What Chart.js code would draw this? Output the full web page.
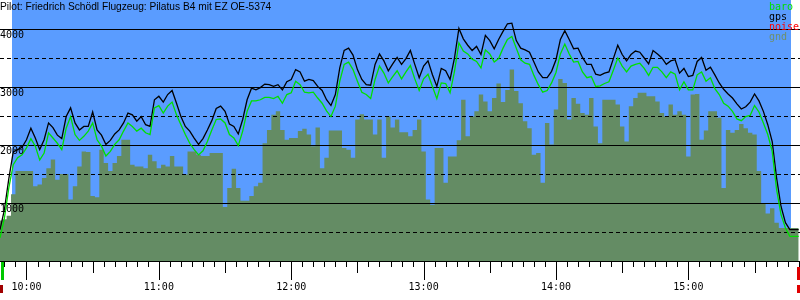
<!DOCTYPE html>
<html><head><meta charset="utf-8">
<script src="https://cdn.jsdelivr.net/npm/chart.js@4/dist/chart.umd.min.js"></script>
<style>
html,body{margin:0;padding:0;background:#fff;}
#wrap{position:relative;width:800px;height:300px;overflow:hidden;}
#title{position:absolute;left:0;top:1px;font:10.2px "Liberation Sans",Arial,sans-serif;line-height:11px;color:#000;white-space:nowrap;}
#legend{position:absolute;left:769px;top:2px;font:10px "DejaVu Sans Mono",monospace;line-height:10px;white-space:nowrap;}
</style></head><body>
<div id="wrap"><canvas id="c" width="800" height="300"></canvas>
<div id="title"></div><div id="legend"></div></div>
<script>
const titleText = 'Pilot: Friedrich Schödl Flugzeug: Pilatus B4 mit EZ OE-5374';
const seriesNames = ['baro', 'gps', 'noise', 'gnd'];
const seriesColors = ['#00e000', '#000000', '#ff0000', '#648c64'];
const hourTicks = [600, 660, 720, 780, 840, 900];
const hourLabels = ['10:00', '11:00', '12:00', '13:00', '14:00', '15:00'];
const xMin = 588, xMax = 950.6;
const skyStart = 593.4, skyEnd = 946.4;
const takeoff = 589, landing = 949.6;

const times = [588,590,592,594,596,598,600,602,604,606,608,610,612,614,616,618,620,622,624,626,628,630,632,634,636,638,640,642,644,646,648,650,652,654,656,658,660,662,664,666,668,670,672,674,676,678,680,682,684,686,688,690,692,694,696,698,700,702,704,706,708,710,712,714,716,718,720,722,724,726,728,730,732,734,736,738,740,742,744,746,748,750,752,754,756,758,760,762,764,766,768,770,772,774,776,778,780,782,784,786,788,790,792,794,796,798,800,802,804,806,808,810,812,814,816,818,820,822,824,826,828,830,832,834,836,838,840,842,844,846,848,850,852,854,856,858,860,862,864,866,868,870,872,874,876,878,880,882,884,886,888,890,892,894,896,898,900,902,904,906,908,910,912,914,916,918,920,922,924,926,928,930,932,934,936,938,940,942,944,946,948,950];

const gps = [540,885,1420,1880,1920,1960,2090,2290,2120,1920,
2090,2380,2300,2170,2110,2490,2640,2380,2260,2320,
2320,2570,2260,2170,2010,2080,2190,2260,2380,2550,
2520,2410,2490,2350,2320,2780,2840,2740,2870,2940,
2720,2490,2320,2240,2120,2010,2110,2260,2420,2630,
2670,2580,2360,2320,2190,2440,2780,2980,2950,2990,
3050,3040,3010,3040,2950,3090,3130,3300,3260,3100,
3130,3110,3010,2940,2780,2680,2870,3330,3630,3670,
3550,3300,3130,3040,3030,3390,3570,3450,3280,3400,
3510,3390,3490,3630,3390,3160,3360,3450,3210,3010,
3320,3280,3130,3500,4010,3830,3720,3630,3700,3560,
3890,3800,3660,3820,3960,4090,4100,3800,3670,3640,
3600,3430,3260,3160,3160,3270,3470,3820,3970,3820,
3660,3670,3510,3390,3390,3220,3200,3240,3260,3490,
3720,3560,3450,3560,3620,3600,3500,3400,3630,3570,
3500,3390,3450,3470,3240,3320,3180,3200,3440,3510,
3290,3340,3210,3070,2960,2880,2810,2710,2620,2660,
2740,2880,2760,2580,2350,2060,1430,940,660,540,
540,540];

const baro = [400,740,1260,1660,1780,1830,1950,2110,1980,1740,
1860,2210,2120,2030,1920,2290,2490,2180,2080,2150,
2240,2380,2090,1980,1810,1890,2010,2090,2240,2380,
2320,2240,2290,2210,2180,2640,2680,2550,2670,2740,
2520,2350,2180,2030,1920,1830,1900,2060,2260,2440,
2450,2380,2180,2120,1990,2240,2580,2760,2760,2780,
2820,2820,2800,2840,2720,2870,2900,3100,3040,2910,
2900,2910,2810,2720,2590,2490,2670,3100,3390,3430,
3300,3100,2910,2870,2800,3130,3360,3240,3070,3180,
3280,3140,3260,3370,3140,2940,3140,3220,3010,2800,
3070,3060,2900,3270,3760,3620,3570,3480,3440,3330,
3640,3570,3430,3490,3670,3820,3870,3670,3470,3410,
3390,3200,3040,2910,2940,3070,3250,3570,3740,3570,
3430,3440,3260,3160,3180,3010,3020,3060,3090,3290,
3500,3360,3260,3360,3390,3410,3320,3200,3340,3340,
3260,3160,3260,3220,2950,3090,2950,2950,3210,3260,
3100,3160,2970,2870,2720,2670,2580,2450,2420,2490,
2510,2680,2570,2380,2180,1890,1230,800,570,425,
425,425];

const noise = [];

const gnd = [700,720,780,1150,1550,1550,1550,1550,1290,1320,
1430,1600,1750,1400,1500,1500,1060,1290,1630,1890,
1880,1120,1100,1920,1690,1550,1690,1810,2090,2090,
1660,1630,1630,1600,1830,1720,1600,1660,1630,1810,
1630,1630,1490,1890,1890,1830,1810,1810,1860,1860,
1860,930,1260,1590,1260,1040,1040,1120,1290,1350,
2030,2260,2520,2580,2260,2090,2120,2120,2240,2280,
2180,1980,2300,1600,1780,2250,2250,2250,1950,1920,
1780,2440,2530,2440,2440,2180,2440,1780,2490,2300,
2440,2220,2220,2150,2260,2440,1890,1060,970,1950,
1950,1350,1800,1800,2080,2780,2150,2490,2580,2870,
2750,2580,2810,3060,2740,2950,3300,2930,2720,2410,
2290,1830,1860,1350,2380,2010,2610,3140,3070,2440,
2810,2710,2550,2520,2810,2320,2030,2780,2780,2780,
2700,2320,2060,2670,2810,2900,2900,2840,2840,2750,
2550,2490,2700,2520,2580,2520,1800,2870,2880,2090,
2250,2580,2580,2470,1260,2260,2210,2260,2360,2290,
2210,2180,1550,1000,820,910,660,570,570,570,
570,570];

document.getElementById('title').textContent = titleText;
const leg = document.getElementById('legend');
seriesNames.forEach((n, i) => {
  const d = document.createElement('div');
  d.textContent = n;
  d.style.color = i === 3 ? '#6e8f6e' : seriesColors[i];
  leg.appendChild(d);
});

const pts = arr => arr.map((v, i) => ({x: times[i], y: v}));

const skyPlugin = {
  id: 'sky',
  beforeDatasetsDraw(chart) {
    const {ctx, chartArea, scales} = chart;
    const x0 = Math.round(scales.x.getPixelForValue(skyStart));
    const x1 = Math.round(scales.x.getPixelForValue(skyEnd));
    ctx.save();
    ctx.fillStyle = '#5a9cff';
    ctx.fillRect(x0, chartArea.top, x1 - x0, chartArea.bottom - chartArea.top);
    ctx.restore();
  }
};

const gridPlugin = {
  id: 'gridOver',
  afterDatasetDraw(chart, args) {
    if (chart.data.datasets[args.index].label !== 'gnd') return;
    const {ctx, chartArea, scales} = chart;
    ctx.save();
    ctx.strokeStyle = '#000';
    ctx.lineWidth = 1;
    scales.y.ticks.forEach(t => {
      if (t.value <= 0 || t.value >= scales.y.max) return;
      const y = Math.round(scales.y.getPixelForValue(t.value)) + 0.5;
      ctx.setLineDash(t.value % 1000 === 0 ? [] : [4, 3]);
      ctx.beginPath();
      ctx.moveTo(chartArea.left, y);
      ctx.lineTo(chartArea.right, y);
      ctx.stroke();
    });
    ctx.restore();
  }
};

const tickPlugin = {
  id: 'tickMarks',
  afterDraw(chart) {
    const {ctx, chartArea, scales} = chart;
    const xs = scales.x;
    const b = chartArea.bottom;
    ctx.save();
    ctx.strokeStyle = '#000';
    ctx.lineWidth = 1;
    xs.ticks.forEach(t => {
      const x = Math.round(xs.getPixelForValue(t.value)) + 0.5;
      const len = t.value % 60 === 0 ? 19 : (t.value % 30 === 0 ? 12 : 6);
      ctx.beginPath();
      ctx.moveTo(x, b);
      ctx.lineTo(x, b + len);
      ctx.stroke();
    });
    const xt = Math.round(xs.getPixelForValue(takeoff));
    const xl = Math.round(xs.getPixelForValue(landing));
    ctx.fillStyle = '#00c800';
    ctx.fillRect(xt - 1, b + 1, 3, 18);
    ctx.fillStyle = '#a00000';
    ctx.fillRect(xs.left, b + 24, 3, 8);
    ctx.fillStyle = '#e00000';
    ctx.fillRect(xl - 1, b + 6, 3, 13);
    ctx.fillRect(xl - 1, b + 24, 3, 8);
    ctx.restore();
  }
};

const minorTicks = [];
for (let m = 590; m <= 950; m += 5) minorTicks.push(m);

new Chart(document.getElementById('c'), {
  type: 'line',
  data: {
    datasets: [
      {label: seriesNames[0], data: pts(baro), borderColor: seriesColors[0], borderWidth: 1.3, pointRadius: 0, fill: false, order: 0},
      {label: seriesNames[1], data: pts(gps), borderColor: seriesColors[1], borderWidth: 1.3, pointRadius: 0, fill: false, order: 1},
      {label: seriesNames[2], data: pts(noise), borderColor: seriesColors[2], borderWidth: 1, pointRadius: 0, fill: false, order: 2},
      {label: seriesNames[3], data: pts(gnd), borderColor: seriesColors[3], backgroundColor: seriesColors[3], borderWidth: 0, pointRadius: 0, fill: 'origin', stepped: 'middle', order: 3}
    ]
  },
  options: {
    responsive: false,
    animation: false,
    events: [],
    layout: {padding: 0, autoPadding: false},
    plugins: {legend: {display: false}, tooltip: {enabled: false}, title: {display: false}},
    scales: {
      x: {
        type: 'linear', min: xMin, max: xMax,
        afterBuildTicks: s => { s.ticks = minorTicks.map(v => ({value: v})); },
        afterFit: s => { s.height = 39; s.paddingLeft = 0; s.paddingRight = 0; },
        grid: {display: true, drawOnChartArea: false, drawTicks: true, tickLength: 19, color: 'rgba(0,0,0,0)'},
        border: {display: true, color: '#000', width: 1, z: 1},
        ticks: {autoSkip: false, maxRotation: 0, padding: 1, color: '#000',
          font: {family: 'DejaVu Sans Mono', size: 10},
          callback: v => { const i = hourTicks.indexOf(v); return i >= 0 ? hourLabels[i] : ''; }}
      },
      y: {
        min: 0, max: 4500,
        afterFit: s => { s.width = 0; s.paddingTop = 0; s.paddingBottom = 0; },
        grid: {display: false, drawTicks: false},
        border: {display: false},
        ticks: {stepSize: 500, mirror: true, padding: 0, labelOffset: 6, z: 1, autoSkip: false, color: '#000',
          font: {family: 'DejaVu Sans Mono', size: 10},
          callback: v => (v > 0 && v < 4500 && v % 1000 === 0) ? String(v) : ''}
      }
    }
  },
  plugins: [skyPlugin, gridPlugin, tickPlugin]
});
</script>
</body></html>
